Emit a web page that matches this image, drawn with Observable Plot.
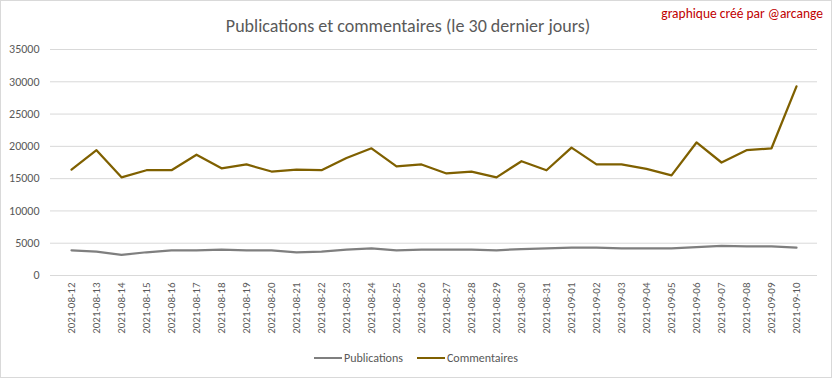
<!DOCTYPE html>
<html>
<head>
<meta charset="utf-8">
<script src="https://cdn.jsdelivr.net/npm/d3@7"></script>
<script src="https://cdn.jsdelivr.net/npm/@observablehq/plot@0.6"></script>
<style>
  html, body { margin: 0; padding: 0; background: #fff; }
  #wrap { position: relative; width: 832px; height: 378px; overflow: hidden; background: #fff;
          font-family: Carlito, "Liberation Sans Narrow", "Liberation Sans", sans-serif; }
  #frame { position: absolute; left: 0; top: 0; width: 832px; height: 378px; box-sizing: border-box;
           border: 1px solid #d9d9d9; pointer-events: none; }
  #title { position: absolute; left: -8px; top: 14px; width: 832px; text-align: center; font-size: 18px;
           line-height: 24px; color: #595959; }
  #credit { position: absolute; right: 9px; top: 6px; font-size: 13.5px; line-height: 16px; color: #c00000; }
  #chart { position: absolute; left: 0; top: 0; }
  #legend { position: absolute; left: 0; top: 350px; width: 832px; display: flex; justify-content: center;
            align-items: center; font-size: 12px; line-height: 16px; color: #595959; }
  .item { display: flex; align-items: center; margin: 0 7px; }
  .sw { display: inline-block; width: 28px; height: 2.5px; margin-right: 2px; }
</style>
</head>
<body>
<div id="wrap">
  <div id="title">Publications et commentaires (le 30 dernier jours)</div>
  <div id="credit">graphique créé par @arcange</div>
  <div id="chart"></div>
  <div id="legend"></div>
  <div id="frame"></div>
</div>
<script>
const dates = ["2021-08-12","2021-08-13","2021-08-14","2021-08-15","2021-08-16","2021-08-17","2021-08-18","2021-08-19","2021-08-20","2021-08-21",
  "2021-08-22","2021-08-23","2021-08-24","2021-08-25","2021-08-26","2021-08-27","2021-08-28","2021-08-29","2021-08-30","2021-08-31",
  "2021-09-01","2021-09-02","2021-09-03","2021-09-04","2021-09-05","2021-09-06","2021-09-07","2021-09-08","2021-09-09","2021-09-10"];
const publications = [3900,3700,3200,3600,3900,3900,4000,3900,3900,3600,
  3700,4000,4200,3900,4000,4000,4000,3900,4100,4200,
  4300,4300,4200,4200,4200,4400,4600,4500,4500,4300];
const commentaires = [16400,19400,15200,16300,16300,18700,16600,17200,16100,16400,
  16300,18200,19700,16900,17200,15800,16100,15200,17700,16300,
  19800,17200,17200,16500,15500,20600,17500,19400,19700,29300];
const yTicks = [0,5000,10000,15000,20000,25000,30000,35000];
const seriesNames = ["Publications","Commentaires"];
const seriesColors = ["#7f7f7f","#7f6000"];

const rowsPub = dates.map((d,i)=>({date:d, value:publications[i]}));
const rowsCom = dates.map((d,i)=>({date:d, value:commentaires[i]}));

const font = 'Carlito, "Liberation Sans Narrow", "Liberation Sans", sans-serif';
const chart = Plot.plot({
  width: 832, height: 350,
  marginTop: 49, marginBottom: 75, marginLeft: 50, marginRight: 15,
  style: {fontFamily: font, fontSize: "12px", color: "#595959", background: "transparent"},
  x: {type: "point", domain: dates, padding: 0.5, label: null},
  y: {domain: [0, 35000], label: null},
  marks: [
    Plot.gridY(yTicks, {stroke: "#d9d9d9", strokeOpacity: 1}),
    Plot.axisY(yTicks, {tickSize: 0, tickPadding: 11, tickFormat: d => String(d), fill: "#595959", fontSize: 12}),
    Plot.axisX({tickSize: 0, tickRotate: -90, tickPadding: 7, textAnchor: "end", fill: "#595959", fontSize: 11}),
    Plot.lineY(rowsPub, {x: "date", y: "value", stroke: seriesColors[0], strokeWidth: 2.25, strokeLinejoin: "round"}),
    Plot.lineY(rowsCom, {x: "date", y: "value", stroke: seriesColors[1], strokeWidth: 2.25, strokeLinejoin: "round"})
  ]
});
document.getElementById("chart").appendChild(chart);

const legend = document.getElementById("legend");
seriesNames.forEach((n,i)=>{
  const it = document.createElement("div"); it.className = "item";
  const sw = document.createElement("span"); sw.className = "sw"; sw.style.background = seriesColors[i];
  const tx = document.createElement("span"); tx.textContent = n;
  it.appendChild(sw); it.appendChild(tx); legend.appendChild(it);
});
</script>
</body>
</html>
